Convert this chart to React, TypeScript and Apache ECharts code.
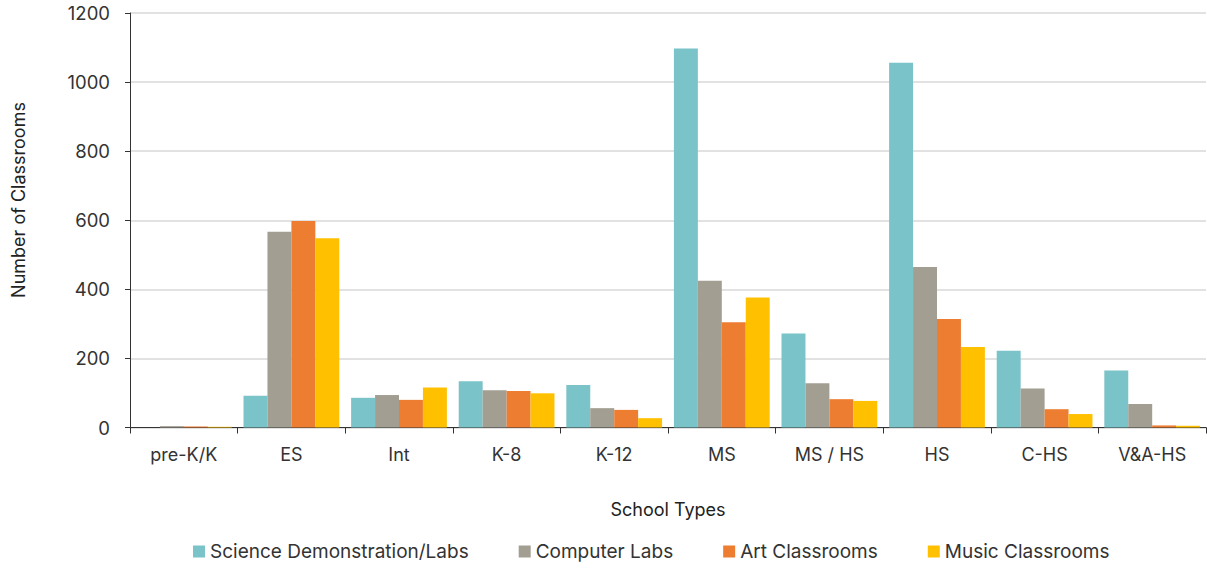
import React, { useEffect, useRef } from "react";
import * as echarts from "echarts";

const categories = ["pre-K/K", "ES", "Int", "K-8", "K-12", "MS", "MS / HS", "HS", "C-HS", "V&A-HS"];
const seriesNames = ["Science Demonstration/Labs", "Computer Labs", "Art Classrooms", "Music Classrooms"];
const science = [0, 92, 86, 134, 123, 1097, 272, 1056, 222, 165];
const computer = [4, 567, 94, 108, 56, 425, 128, 465, 113, 68];
const art = [3, 598, 80, 106, 51, 305, 82, 314, 53, 6];
const music = [2, 548, 116, 99, 27, 376, 77, 233, 39, 5];
const colors = ["#7AC3C8", "#A29E92", "#ED7D31", "#FFC000"];
const yTicks = { min: 0, max: 1200, interval: 200 };
const yTitle = "Number of Classrooms";
const xTitle = "School Types";

const FONT = "Inter, 'Noto Sans', sans-serif";

export default function App() {
  const ref = useRef<HTMLDivElement>(null);
  useEffect(() => {
    if (!ref.current) return;
    const chart = echarts.init(ref.current, undefined, { renderer: "svg" });
    const data = [science, computer, art, music];
    chart.setOption({
      animation: false,
      textStyle: { fontFamily: FONT },
      color: colors,
      grid: { left: 130, right: 1, top: 13, bottom: 141.5, containLabel: false },
      legend: {
        bottom: 3,
        left: 188,
        icon: "rect",
        itemWidth: 12,
        itemHeight: 12,
        itemGap: 50,
        textStyle: { fontSize: 19, color: "#333", fontFamily: FONT },
        data: seriesNames,
      },
      graphic: [
        {
          type: "text",
          x: 18,
          y: 200,
          rotation: Math.PI / 2,
          style: {
            text: yTitle,
            fontSize: 18,
            fill: "#222",
            fontFamily: FONT,
            align: "center",
            verticalAlign: "middle",
          },
        },
      ],
      xAxis: {
        type: "category",
        data: categories,
        name: xTitle,
        nameLocation: "middle",
        nameGap: 73,
        nameTextStyle: { fontSize: 18, color: "#222", fontFamily: FONT },
        axisLine: { lineStyle: { color: "#333", width: 1 } },
        axisTick: { show: true, length: 6, lineStyle: { color: "#333" } },
        axisLabel: { fontSize: 18, color: "#333", margin: 18, fontFamily: FONT },
      },
      yAxis: {
        type: "value",
        min: yTicks.min,
        max: yTicks.max,
        interval: yTicks.interval,
        axisLine: { show: true, lineStyle: { color: "#333", width: 1 } },
        axisTick: { show: true, length: 5, lineStyle: { color: "#333" } },
        axisLabel: {
          fontSize: 18.5,
          color: "#333",
          margin: 20,
          fontFamily: FONT,
          formatter: (v: number) => String(v),
        },
        splitLine: { show: true, lineStyle: { color: "#d9d9d9", width: 1.5 } },
      },
      series: seriesNames.map((name, i) => ({
        name,
        type: "bar",
        data: data[i],
        barGap: "0%",
        barCategoryGap: "11%",
        itemStyle: { color: colors[i] },
      })),
    });
    return () => chart.dispose();
  }, []);
  return (
    <div
      ref={ref}
      style={{ position: "fixed", left: 0, top: 0, width: 1207, height: 569, background: "#fff" }}
    />
  );
}
